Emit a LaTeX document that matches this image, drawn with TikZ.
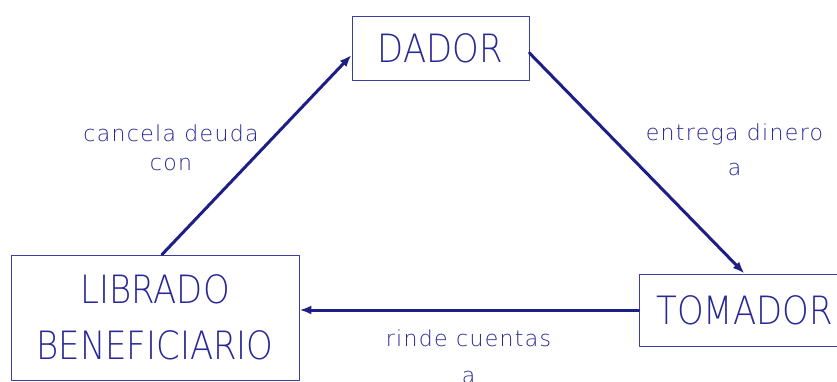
\documentclass[tikz,border=0pt]{standalone}
\usepackage{fontspec}
\usetikzlibrary{arrows.meta}
\newfontfamily\capsfont[FakeStretch=0.87]{DejaVu Sans ExtraLight}
\newfontfamily\labfont[LetterSpace=6]{DejaVu Sans ExtraLight}
\definecolor{cadtext}{RGB}{40,40,150}
\definecolor{cadline}{RGB}{30,30,135}
\definecolor{cadbox}{RGB}{60,60,165}

\begin{document}
\begin{tikzpicture}[line cap=round, line join=round, x=1pt, y=-1pt,
  actor/.style={draw=cadbox, line width=0.9pt, text=cadtext, inner sep=0pt,
    align=center, font=\capsfont\fontsize{39pt}{56pt}\selectfont},
  deal/.style={text=cadtext, inner sep=0pt, anchor=north, align=center,
    font=\labfont\fontsize{22pt}{29pt}\selectfont},
  flow/.style={draw=cadline, line width=3pt, -{Latex[length=12pt,width=9pt]}}]
\useasboundingbox (0,0) rectangle (837,381);
\node [actor, minimum width=177pt, minimum height=64pt] (dador) at (440.5,48) {DADOR};
\node [actor, minimum width=288pt, minimum height=125pt] (librado) at (155,317.5)
  {LIBRADO\\BENEFICIARIO};
\node [actor, minimum width=211pt, minimum height=72pt] (tomador) at (744.5,310) {TOMADOR};
\draw [flow] ([xshift=7pt]librado.north) -- ([yshift=-7pt]dador.west);
\draw [flow] ([yshift=-5pt]dador.east) -- (tomador.north);
\draw [flow] (tomador.west) -- (tomador.west -| librado.east);
\node [deal] (cancela) at (171,125) {cancela deuda\\con};
\node [deal] (entrega) at (734.5,124) {entrega dinero\\[6pt]a};
\node [deal] (rinde) at (468.5,330) {rinde cuentas\\[8pt]a};
\end{tikzpicture}
\end{document}
